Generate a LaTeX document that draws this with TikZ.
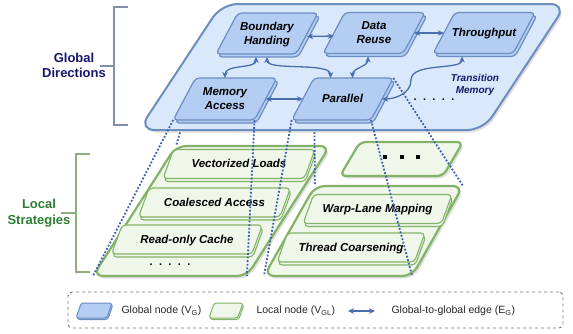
\documentclass[tikz,border=0pt]{standalone}
\usepackage{fontspec}
\setmainfont{Liberation Sans}
\usetikzlibrary{shapes.geometric,shadows,arrows.meta,calc}
\definecolor{bgfill}{HTML}{DAE8FC}
\definecolor{bgdraw}{HTML}{6C8EBF}
\definecolor{gfill}{HTML}{B4CDF3}
\definecolor{gdraw}{HTML}{6C8EBF}
\definecolor{lfill}{HTML}{EFF6EA}
\definecolor{ldraw}{HTML}{82B366}
\definecolor{edgecol}{HTML}{4A6DAE}
\definecolor{dotcol}{HTML}{3D5FB3}
\definecolor{navytext}{HTML}{16166E}
\definecolor{greentext}{HTML}{2E7D32}
\definecolor{gbrack}{HTML}{8090AA}
\definecolor{lbrack}{HTML}{8FAE80}
\definecolor{legdash}{HTML}{777777}
\newcommand{\zwtext}[1]{\smash{\makebox[0pt]{\raisebox{-4pt}{\begin{tabular}{@{}c@{}}#1\end{tabular}}}}}
\newcommand{\fivedots}{.\hspace{6.4pt}.\hspace{6.4pt}.\hspace{6.4pt}.\hspace{6.4pt}.}
\begin{document}
\begin{tikzpicture}[x=1pt,y=-1pt,
  para/.style={trapezium, outer sep=0pt, minimum width=0pt, minimum height=0pt},
  bgshape/.style={para, trapezium left angle=56.6, trapezium right angle=123.4,
    fill=bgfill, draw=bgdraw, line width=2pt, rounded corners=16pt,
    drop shadow={shadow xshift=2pt, shadow yshift=-2.5pt, opacity=0.25}},
  gnode/.style={para, trapezium left angle=62, trapezium right angle=118,
    inner xsep=29.2pt, inner ysep=20.5pt, fill=gfill, draw=gdraw, line width=1.2pt,
    rounded corners=4pt,
    copy shadow={shadow xshift=2pt, shadow yshift=-3pt, fill=gfill, draw=gdraw, line width=1.2pt},
    font=\fontsize{11.5}{14}\selectfont\bfseries\itshape},
  lcont/.style={para, fill=lfill, draw=ldraw, line width=2.2pt, rounded corners=10pt,
    drop shadow={shadow xshift=2pt, shadow yshift=-2.5pt, opacity=0.25}},
  lnode/.style={para, trapezium left angle=70, trapezium right angle=110,
    inner ysep=14.5pt, fill=lfill, draw=ldraw, line width=1.1pt, rounded corners=4pt,
    copy shadow={shadow xshift=1pt, shadow yshift=-3pt, fill=lfill, draw=ldraw, line width=1.1pt},
    font=\fontsize{11.5}{14}\selectfont\bfseries\itshape},
  gicon/.style={para, trapezium left angle=71, trapezium right angle=109,
    inner xsep=12.8pt, inner ysep=7.5pt, fill=gfill, draw=gdraw, line width=1pt,
    rounded corners=2.5pt,
    copy shadow={shadow xshift=1pt, shadow yshift=-1.5pt, fill=gfill, draw=gdraw, line width=1pt}},
  licon/.style={para, trapezium left angle=71, trapezium right angle=109,
    inner xsep=11.8pt, inner ysep=7.5pt, fill=lfill, draw=ldraw, line width=1pt,
    rounded corners=2.5pt,
    copy shadow={shadow xshift=1pt, shadow yshift=-1.5pt, fill=lfill, draw=ldraw, line width=1pt}},
  gedge/.style={draw=edgecol, line width=1.3pt, >={Stealth[length=6pt,width=5.5pt]}, <->},
  proj/.style={draw=dotcol, line width=1.8pt, dash pattern=on 1.8pt off 1.8pt},
  sidelabel/.style={font=\fontsize{13}{15.5}\selectfont\bfseries, align=center},
  legtext/.style={font=\fontsize{10.5}{12}\selectfont, anchor=west, text=black!85},
]
\useasboundingbox (0,0) rectangle (573,333);

% global layer
\node[bgshape, inner xsep=130.8pt, inner ysep=63pt] (gbg) at (352.5,67) {};
\node[gnode] (bh) at (267,33.5) {\zwtext{Boundary\\Handing}};
\node[gnode] (dr) at (374,33) {\zwtext{Data\\Reuse}};
\node[gnode] (tp) at (484,33) {\zwtext{Throughput}};
\node[gnode, inner ysep=21pt, inner xsep=29.5pt] (ma) at (225,99) {\zwtext{Memory\\Access}};
\node[gnode, inner ysep=21pt, inner xsep=28.5pt] (pa) at (342.5,99) {\zwtext{Parallel}};

\draw[gedge] ([yshift=-3pt]bh.east) -- ([yshift=-3pt]dr.west);
\draw[gedge] (dr.east) -- (tp.west);
\draw[gedge] ([xshift=-11pt,yshift=-3pt]bh.south) .. controls +(0,12) and +(0,-14) .. (ma.north);
\draw[gedge] ([yshift=-3pt]bh.south) .. controls +(0,14) and +(0,-16) .. ([xshift=-12pt]pa.north);
\draw[gedge] ([xshift=-6pt,yshift=-3pt]dr.south) .. controls +(0,10) and +(0,-10) .. ([xshift=10pt]pa.north);
\draw[gedge] (ma.east) -- (pa.west);
\coordinate (tpbend) at (411,80);
\draw[gedge] ([xshift=-22pt,yshift=-3pt]tp.south) .. controls +(0,14) and +(0,-18) .. (tpbend)
  .. controls +(0,14) and +(12,0) .. (pa.east);

\node[font=\fontsize{10}{12}\selectfont\bfseries\itshape, text=navytext, align=center] (tm) at (475,85) {Transition\\Memory};
\node[font=\fontsize{11}{13}\selectfont\bfseries] (gdots) at (434,100) {\fivedots};

% local layer
\node[lcont, inner xsep=35.4pt, inner ysep=65pt, trapezium left angle=57.4, trapezium right angle=122.6] (c1) at (211.5,211) {};
\node[lcont, inner xsep=48.6pt, inner ysep=45pt, trapezium left angle=60.5, trapezium right angle=119.5] (c2) at (363.5,231) {};
\node[lcont, inner xsep=41.5pt, inner ysep=17pt, trapezium left angle=59.5, trapezium right angle=120.5, rounded corners=6pt] (more) at (401.5,159)
  {\smash{\makebox[0pt]{\rule{4pt}{4pt}\hspace{12.5pt}\rule{4pt}{4pt}\hspace{12.5pt}\rule{4pt}{4pt}}}};

\node[lnode, inner xsep=65.4pt] (vl) at (239,164) {\zwtext{Vectorized Loads}};
\node[lnode, inner xsep=65.4pt] (ca) at (214.5,202.5) {\zwtext{Coalesced Access}};
\node[lnode, inner xsep=64.9pt] (rc) at (187,239.5) {\zwtext{Read-only Cache}};
\node[font=\fontsize{11}{13}\selectfont\bfseries] (ldots) at (170,265) {\fivedots};
\node[lnode, inner xsep=63.9pt] (wl) at (377.5,209) {\zwtext{Warp-Lane Mapping}};
\node[lnode, inner xsep=63.4pt] (tc) at (351,247.5) {\zwtext{Thread Coarsening}};

% projections
\draw[proj] ($(ma.top left corner)!0.8!(c1.top left corner)$) -- (c1.top left corner);
\draw[proj] (ma.bottom left corner) -- (c1.bottom left corner);
\draw[proj] (ma.bottom right corner) -- (c1.bottom right corner);
\draw[proj] ($(pa.top left corner)!0.5!(c2.top left corner)$) -- (c2.top left corner);
\draw[proj] (pa.bottom left corner) -- (c2.bottom left corner);
\draw[proj] (pa.bottom right corner) -- (c2.bottom right corner);
\draw[proj] (pa.top right corner) -- (c2.top right corner);

% side labels
\node[sidelabel, text=navytext] (gdir) at (74,65.5) {Global\\Directions};
\draw[gbrack, line width=1.3pt] (128,7) -- (114,7) -- (114,125) -- (128,125);
\draw[gbrack, line width=1.3pt] (100,66) -- (114,66);
\node[sidelabel, text=greentext] (lstr) at (39,213) {Local\\Strategies};
\draw[lbrack, line width=1.3pt] (90,154) -- (76,154) -- (76,272) -- (90,272);
\draw[lbrack, line width=1.3pt] (61,213) -- (76,213);

% legend
\node[draw=legdash, dashed, line width=0.9pt, rounded corners=4pt, minimum width=495pt, minimum height=36pt] (legend) at (315.5,310) {};
\node[gicon] (lgi) at (94,310.5) {};
\node[legtext] (lgt) at (118,311) {Global node (V\textsubscript{G})};
\node[licon] (lli) at (226,310.5) {};
\node[legtext] (llt) at (253,311) {Local node (V\textsubscript{GL})};
\coordinate (la1) at (348,311);
\coordinate (la2) at (375,311);
\draw[gedge] (la1) -- (la2);
\node[legtext] (let) at (388,311) {Global-to-global edge (E\textsubscript{G})};
\end{tikzpicture}
\end{document}
